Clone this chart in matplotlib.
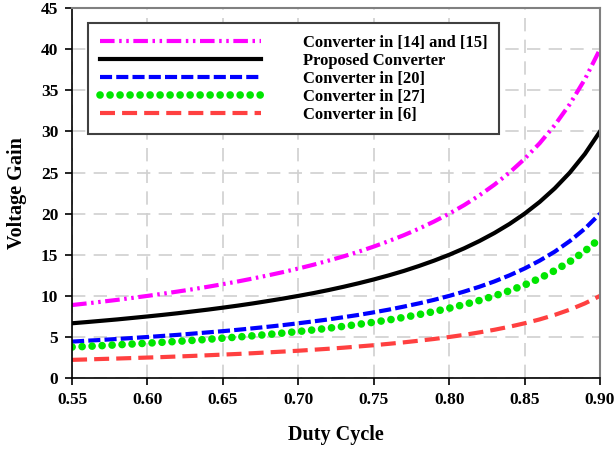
import matplotlib
matplotlib.use("Agg")
import matplotlib.pyplot as plt

duty = [0.55, 0.56, 0.57, 0.58, 0.59, 0.60, 0.61, 0.62, 0.63, 0.64, 0.65, 0.66,
        0.67, 0.68, 0.69, 0.70, 0.71, 0.72, 0.73, 0.74, 0.75, 0.76, 0.77, 0.78,
        0.79, 0.80, 0.81, 0.82, 0.83, 0.84, 0.85, 0.86, 0.87, 0.88, 0.89, 0.90]

gain_14_15 = [8.89, 9.09, 9.30, 9.52, 9.76, 10.0, 10.26, 10.53, 10.81, 11.11, 11.43, 11.76,
              12.12, 12.5, 12.90, 13.33, 13.79, 14.29, 14.81, 15.38, 16.0, 16.67, 17.39, 18.18,
              19.05, 20.0, 21.05, 22.22, 23.53, 25.0, 26.67, 28.57, 30.77, 33.33, 36.36, 40.0]
gain_proposed = [6.67, 6.82, 6.98, 7.14, 7.32, 7.5, 7.69, 7.89, 8.11, 8.33, 8.57, 8.82,
                 9.09, 9.38, 9.68, 10.0, 10.34, 10.71, 11.11, 11.54, 12.0, 12.5, 13.04, 13.64,
                 14.29, 15.0, 15.79, 16.67, 17.65, 18.75, 20.0, 21.43, 23.08, 25.0, 27.27, 30.0]
gain_20 = [4.44, 4.55, 4.65, 4.76, 4.88, 5.0, 5.13, 5.26, 5.41, 5.56, 5.71, 5.88,
           6.06, 6.25, 6.45, 6.67, 6.90, 7.14, 7.41, 7.69, 8.0, 8.33, 8.70, 9.09,
           9.52, 10.0, 10.53, 11.11, 11.76, 12.5, 13.33, 14.29, 15.38, 16.67, 18.18, 20.0]
gain_27 = [3.78, 3.86, 3.95, 4.05, 4.15, 4.25, 4.36, 4.47, 4.59, 4.72, 4.86, 5.0,
           5.15, 5.31, 5.48, 5.67, 5.86, 6.07, 6.30, 6.54, 6.8, 7.08, 7.39, 7.73,
           8.10, 8.5, 8.95, 9.44, 10.0, 10.63, 11.33, 12.14, 13.08, 14.17, 15.45, 17.0]
gain_6 = [2.22, 2.27, 2.33, 2.38, 2.44, 2.5, 2.56, 2.63, 2.70, 2.78, 2.86, 2.94,
          3.03, 3.13, 3.23, 3.33, 3.45, 3.57, 3.70, 3.85, 4.0, 4.17, 4.35, 4.55,
          4.76, 5.0, 5.26, 5.56, 5.88, 6.25, 6.67, 7.14, 7.69, 8.33, 9.09, 10.0]

labels = ["Converter in [14] and [15]", "Proposed Converter", "Converter in [20]",
          "Converter in [27]", "Converter in [6]"]
xticks = [0.55, 0.60, 0.65, 0.70, 0.75, 0.80, 0.85, 0.90]
yticks = [0, 5, 10, 15, 20, 25, 30, 35, 40, 45]

plt.rcParams['font.family'] = ['Liberation Serif', 'DejaVu Serif']
plt.rcParams['font.weight'] = 'bold'

fig = plt.figure(figsize=(6.16, 4.55), dpi=100)
ax = fig.add_axes([0.117, 0.169, 0.857, 0.813])

ax.plot(duty, gain_14_15, color='#FF00FF', lw=3, dashes=(3.5, 1.1, 0.6, 1.1, 0.6, 1.1),
        label=labels[0])
ax.plot(duty, gain_proposed, color='black', lw=3, label=labels[1])
ax.plot(duty, gain_20, color='#0000FF', lw=3, dashes=(2.9, 1.0), label=labels[2])
ax.plot(duty, gain_27, color='#00E600', lw=5.5, dashes=(0.01, 1.3),
        dash_capstyle='round', label=labels[3])
ax.plot(duty, gain_6, color='#FF4040', lw=3, dashes=(3.6, 1.7), label=labels[4])

ax.set_xlim(0.55, 0.90)
ax.set_ylim(0, 45)
ax.set_xticks(xticks)
ax.set_xticklabels([f"{t:.2f}" for t in xticks])
ax.set_yticks(yticks)
ax.tick_params(labelsize=12.5, length=5, width=1.2, direction='out', pad=5)
for lab in ax.get_xticklabels() + ax.get_yticklabels():
    lab.set_fontweight('bold')

ax.grid(True, color='#D0D0D0', lw=1.2, ls=(0, (8, 5)))
ax.set_axisbelow(True)
for side in ['top', 'right']:
    ax.spines[side].set_color('#808080')
    ax.spines[side].set_linewidth(1.5)
for side in ['left', 'bottom']:
    ax.spines[side].set_color('black')
    ax.spines[side].set_linewidth(1.2)

ax.set_xlabel("Duty Cycle", fontsize=14.5, fontweight='bold', labelpad=12)
ax.set_ylabel("Voltage Gain", fontsize=14.5, fontweight='bold', labelpad=10)

leg = ax.legend(loc='upper left', bbox_to_anchor=(0.030, 0.960), borderaxespad=0,
                fancybox=False, framealpha=1, edgecolor='#404040',
                prop={'size': 12, 'weight': 'bold'},
                handlelength=9.7, handletextpad=2.5, labelspacing=0.12,
                borderpad=0.7)
leg.get_frame().set_linewidth(1.5)

fig.savefig("out.png", dpi=100)
